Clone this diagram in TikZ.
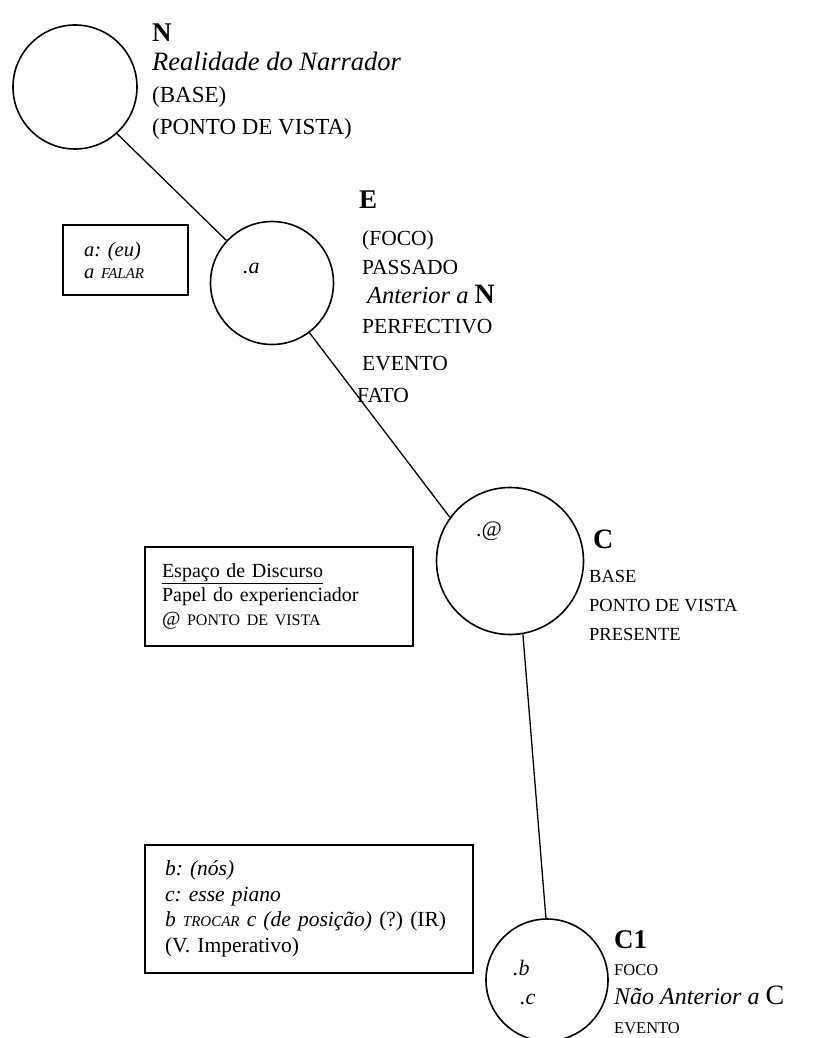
\documentclass[tikz,border=0pt]{standalone}
\usepackage{fontspec}
\setmainfont{Liberation Serif}
\usetikzlibrary{positioning}
\frenchspacing

\newcommand{\setfs}[2]{\fontsize{#1}{#2}\selectfont}

\begin{document}
\begin{tikzpicture}[
    x=1pt, y=-1pt,
    space/.style={circle, draw, line width=1.6pt, inner sep=0pt},
    link/.style={line width=1.3pt},
    tag/.style={anchor=north west, inner sep=0pt, font=\bfseries\setfs{27}{27}},
    facts/.style={anchor=north west, inner sep=0pt, align=left},
    inside/.style={anchor=west, inner sep=0pt, font=\itshape\setfs{22}{22}},
    legend/.style={draw, line width=1.5pt, align=left, inner ysep=0pt},
]
\useasboundingbox (0,0) rectangle (826,1038);

% --- espaços mentais ---
\node[space, minimum size=124pt] (N)  at (75,87)   {};
\node[space, minimum size=123pt] (E)  at (272,283) {};
\node[space, minimum size=147pt] (C)  at (510,561) {};
\node[space, minimum size=122pt] (C1) at (547,980) {};

\node[inside] (inA) at (243,268) {.a};
\node[inside, font=\setfs{22}{22}] (inAt) at (476,531) {.@};
\node[inside] (inB) at (513,968) {.b};
\node[inside] (inC) at (520,999) {.c};

% --- ligações ---
\draw[link] (N.-48) -- (E.137);
\draw[link] (E.-53) -- (C.144);
\draw[link] (C.-80) -- (C1.91);

% --- rótulos ---
\node[tag] (Ntag) at (152,24) {N};
\node[facts, font=\setfs{23}{32}] (Nfacts) at (152,52)
    {{\itshape\setfs{26.5}{32}Realidade do Narrador}\\(BASE)\\(PONTO DE VISTA)};

\node[tag] (Etag) at (359,191) {E};
\node[facts, font=\setfs{21.5}{29}] (Efacts) at (362,230)
    {(FOCO)\\PASSADO\\\hspace{5pt}{\itshape\setfs{24.5}{29}Anterior a }{\bfseries\setfs{28}{29}N}\\[1pt]
     PERFECTIVO\\[8pt]EVENTO\\[3pt]\hspace{-5pt}FATO};

\node[tag, font=\bfseries\setfs{28}{28}] (Ctag) at (593,530) {C};
\node[facts, font=\setfs{18.5}{29}] (Cfacts) at (589,570)
    {BASE\\PONTO DE VISTA\\PRESENTE};

\node[tag] (C1tag) at (614,930) {C1};
\node[facts, font=\setfs{16.5}{29}] (C1facts) at (614,964)
    {FOCO\\{\itshape\setfs{24}{29}Não Anterior a }{\setfs{28}{29}C}\\EVENTO};

% --- quadros ---
\node[legend, minimum width=125pt, minimum height=70pt, text width=83pt, inner xsep=21pt,
      font=\itshape\setfs{20.5}{22}] (boxA) at (125.5,260)
    {a: (eu)\\a {\setfs{15}{22}FALAR}};

\node[legend, minimum width=268pt, minimum height=99pt, text width=234pt, inner xsep=17pt,
      font=\setfs{20}{24}] (boxDisc) at (279,596.5)
    {\underline{Espaço de Discurso}\\Papel do experienciador\\@ {\setfs{16}{24}PONTO DE VISTA}};

\node[legend, minimum width=328pt, minimum height=128pt, text width=288pt, inner xsep=20pt,
      font=\setfs{21.5}{25.5}] (boxB) at (309,909)
    {{\itshape b: (nós)}\\{\itshape c: esse piano}\\
     {\itshape b {\setfs{15}{25.5}TROCAR} c (de posição)} (?) (IR)\\(V. Imperativo)};

\end{tikzpicture}
\end{document}
